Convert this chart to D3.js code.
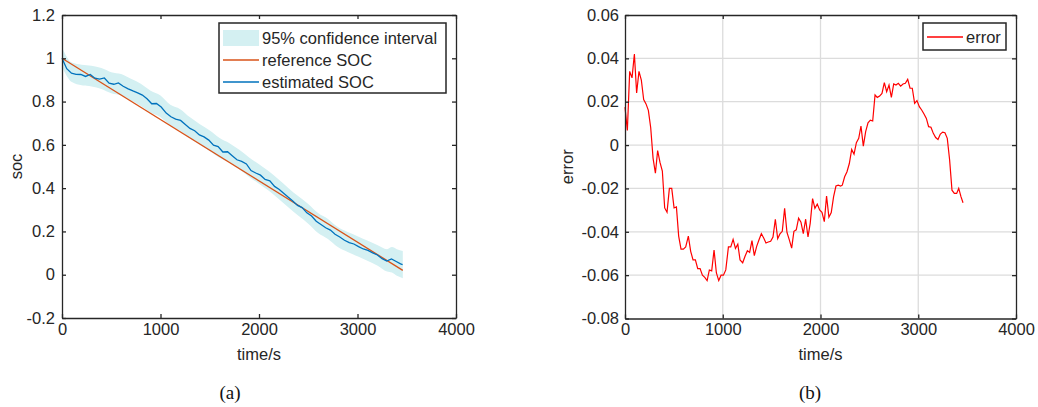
<!DOCTYPE html>
<html>
<head>
<meta charset="utf-8">
<script src="https://cdn.jsdelivr.net/npm/d3@7"></script>
<style>
  body { margin: 0; background: #fff; }
  svg text { font-family: "Liberation Sans", Arial, sans-serif; font-size: 16.5px; fill: #262626; }
  svg text.caption { font-family: "Liberation Serif", "DejaVu Serif", serif; font-size: 19px; fill: #111; }
  .axis path, .axis line { stroke: #262626; stroke-width: 1.3; }
</style>
</head>
<body>
<svg id="chart" width="1038" height="407"></svg>
<script>
/* global d3 */
const
  axisColor = '#262626',
  bandColor = '#d4f0f2',
  refColor = '#d95319',
  estColor = '#0072bd',
  errColor = '#ff0000',
  gridColor = '#dcdcdc';

// x ticks (shared), y ticks of each panel
const timeTicks = [0, 1000, 2000, 3000, 4000];
const socTicks = [-0.2, 0, 0.2, 0.4, 0.6, 0.8, 1, 1.2];
const errTicks = [-0.08, -0.06, -0.04, -0.02, 0, 0.02, 0.04, 0.06];

// (a) reference SOC: straight discharge line
const refTime = [0, 3460];
const refSoc = [1.0, 0.02];

// (a) estimated SOC
const estTime = [0, 48, 96, 143, 191, 239, 287, 334, 382, 430, 478, 526, 573, 621, 672, 720, 768, 816, 863, 911,
  959, 1007, 1058, 1106, 1154, 1204, 1252, 1299, 1347, 1395, 1442, 1490, 1538, 1585, 1633, 1681, 1728, 1776, 1824,
  1872, 1919, 1967, 2015, 2062, 2110, 2158, 2206, 2247, 2295, 2343, 2391, 2438, 2486, 2534, 2581, 2629, 2677, 2725,
  2772, 2820, 2868, 2916, 2963, 3011, 3059, 3106, 3154, 3202, 3250, 3297, 3345, 3393, 3437, 3458];
const estSoc = [1.0, 0.952, 0.931, 0.926, 0.925, 0.916, 0.925, 0.908, 0.904, 0.909, 0.885, 0.880, 0.886, 0.871,
  0.859, 0.849, 0.840, 0.830, 0.813, 0.790, 0.791, 0.775, 0.747, 0.730, 0.719, 0.713, 0.694, 0.676, 0.665, 0.646,
  0.637, 0.622, 0.599, 0.592, 0.567, 0.568, 0.550, 0.531, 0.524, 0.512, 0.481, 0.470, 0.460, 0.440, 0.434, 0.408,
  0.394, 0.378, 0.359, 0.341, 0.320, 0.310, 0.286, 0.271, 0.247, 0.232, 0.217, 0.206, 0.187, 0.174, 0.159, 0.148,
  0.142, 0.130, 0.119, 0.112, 0.101, 0.091, 0.074, 0.063, 0.073, 0.061, 0.050, 0.047];

// (a) 95% confidence interval
const ciTime = [0, 100, 200, 300, 400, 500, 600, 700, 800, 900, 1000, 1100, 1200, 1300, 1400, 1500, 1600, 1700,
  1800, 1900, 2000, 2100, 2200, 2300, 2400, 2500, 2600, 2700, 2800, 2900, 3000, 3100, 3200, 3300, 3350, 3400, 3460];
const ciUpper = [1.05, 0.98, 0.97, 0.965, 0.955, 0.936, 0.927, 0.905, 0.882, 0.85, 0.828, 0.785, 0.765, 0.727,
  0.695, 0.666, 0.632, 0.608, 0.577, 0.542, 0.51, 0.478, 0.44, 0.40, 0.362, 0.327, 0.285, 0.258, 0.22, 0.197,
  0.178, 0.158, 0.137, 0.118, 0.128, 0.118, 0.11];
const ciLower = [0.96, 0.89, 0.875, 0.87, 0.858, 0.838, 0.828, 0.805, 0.78, 0.75, 0.728, 0.69, 0.665, 0.63, 0.6,
  0.572, 0.54, 0.518, 0.487, 0.452, 0.42, 0.388, 0.35, 0.31, 0.272, 0.236, 0.193, 0.165, 0.128, 0.105, 0.085,
  0.065, 0.043, 0.015, 0.01, -0.005, -0.016];

// (b) error = reference - estimated
const errTime = [0, 24, 48, 72, 96, 119, 143, 167, 191, 215, 239, 263, 287, 311, 334, 358, 382, 406, 430, 454, 478,
  502, 526, 549, 573, 597, 621, 648, 672, 696, 720, 744, 768, 792, 816, 840, 863, 887, 911, 935, 959, 983, 1007,
  1031, 1058, 1082, 1106, 1130, 1154, 1177, 1204, 1228, 1252, 1275, 1299, 1323, 1347, 1371, 1395, 1419, 1442,
  1466, 1490, 1514, 1538, 1562, 1585, 1609, 1633, 1657, 1681, 1705, 1728, 1752, 1776, 1800, 1824, 1848, 1872,
  1895, 1919, 1943, 1967, 1991, 2015, 2039, 2062, 2086, 2110, 2134, 2158, 2182, 2206, 2223, 2247, 2271, 2295,
  2319, 2343, 2367, 2391, 2414, 2438, 2462, 2486, 2510, 2534, 2558, 2581, 2605, 2629, 2653, 2677, 2701, 2725,
  2749, 2772, 2796, 2820, 2844, 2868, 2892, 2916, 2939, 2963, 2987, 3011, 3035, 3059, 3083, 3106, 3130, 3154,
  3178, 3202, 3226, 3250, 3273, 3297, 3321, 3345, 3369, 3393, 3414, 3437, 3458];
const errValue = [0.0175, 0.0067, 0.034, 0.031, 0.042, 0.024, 0.034, 0.030, 0.021, 0.019, 0.016, 0.008, -0.006,
  -0.013, -0.0025, -0.008, -0.012, -0.029, -0.031, -0.020, -0.020, -0.029, -0.0285, -0.042, -0.048, -0.048,
  -0.047, -0.042, -0.049, -0.053, -0.053, -0.057, -0.057, -0.060, -0.061, -0.0625, -0.0576, -0.058, -0.0484,
  -0.059, -0.0625, -0.060, -0.060, -0.0576, -0.047, -0.047, -0.0435, -0.0477, -0.0457, -0.053, -0.0543, -0.0513,
  -0.0487, -0.0495, -0.0441, -0.051, -0.0467, -0.0437, -0.0409, -0.0429, -0.0452, -0.0447, -0.0444, -0.0424,
  -0.0342, -0.0432, -0.041, -0.0398, -0.0292, -0.0403, -0.0437, -0.0475, -0.0398, -0.0391, -0.0337, -0.0356,
  -0.0409, -0.0342, -0.0424, -0.036, -0.0247, -0.0292, -0.0272, -0.0299, -0.031, -0.0353, -0.0235, -0.0333,
  -0.0311, -0.0238, -0.0189, -0.0185, -0.0189, -0.0185, -0.0146, -0.0123, -0.0085, -0.002, -0.0042, 0.0011,
  0.0031, 0.0088, -0.0005, 0.0062, 0.0103, 0.0115, 0.0111, 0.0231, 0.022, 0.0226, 0.0238, 0.0288, 0.0246,
  0.0277, 0.022, 0.0282, 0.0277, 0.0285, 0.0272, 0.0282, 0.0285, 0.0303, 0.0262, 0.0262, 0.0192, 0.0205,
  0.0177, 0.0162, 0.0143, 0.0123, 0.0085, 0.0082, 0.0054, 0.0035, 0.0026, 0.0051, 0.006, 0.0057, 0.0031,
  -0.0069, -0.0208, -0.0223, -0.0223, -0.02, -0.0238, -0.0266];

const svg = d3.select('#chart');

// Panel geometry
const left = { x0: 62, x1: 456, y0: 318, y1: 15 },
  right = { x0: 625, x1: 1016, y0: 318.5, y1: 15 };

const xA = d3.scaleLinear().domain([0, 4000]).range([left.x0, left.x1]),
  yA = d3.scaleLinear().domain([-0.2, 1.2]).range([left.y0, left.y1]),
  xB = d3.scaleLinear().domain([0, 4000]).range([right.x0, right.x1]),
  yB = d3.scaleLinear().domain([-0.08, 0.06]).range([right.y0, right.y1]);

// Box with inward ticks on all four sides (MATLAB style)
function drawFrame(x, y, box, xt, yt, pad) {
  const g = svg.append('g');
  g.append('g').attr('class', 'axis').
    attr('transform', `translate(0,${box.y0})`).
    call(d3.axisBottom(x).tickValues(xt).tickSizeInner(-4).tickSizeOuter(0).tickPadding(5).tickFormat(d => String(d)));
  g.append('g').attr('class', 'axis').
    attr('transform', `translate(0,${box.y1})`).
    call(d3.axisTop(x).tickValues(xt).tickSizeInner(-4).tickSizeOuter(0).tickFormat(''));
  g.append('g').attr('class', 'axis').
    attr('transform', `translate(${box.x0},0)`).
    call(d3.axisLeft(y).tickValues(yt).tickSizeInner(-4).tickSizeOuter(0).tickPadding(pad).tickFormat(d => String(d)));
  g.append('g').attr('class', 'axis').
    attr('transform', `translate(${box.x1},0)`).
    call(d3.axisRight(y).tickValues(yt).tickSizeInner(-4).tickSizeOuter(0).tickFormat(''));
  g.selectAll('.tick text').attr('fill', axisColor).style('font-size', '16.5px').
    style('font-family', '"Liberation Sans", Arial, sans-serif');
  g.selectAll('.domain').attr('stroke', axisColor);
  g.selectAll('.tick line').attr('stroke', axisColor);
  return g;
}

// ---------- (a) ----------
const band = ciTime.map((t, i) => ({ t, hi: ciUpper[i], lo: ciLower[i] }));
svg.append('path').
  datum(band).
  attr('fill', bandColor).
  attr('d', d3.area().x(d => xA(d.t)).y0(d => yA(d.lo)).y1(d => yA(d.hi)).curve(d3.curveMonotoneX));

svg.append('path').
  datum(refTime.map((t, i) => [t, refSoc[i]])).
  attr('fill', 'none').
  attr('stroke', refColor).
  attr('stroke-width', 1.3).
  attr('d', d3.line().x(d => xA(d[0])).y(d => yA(d[1])));

svg.append('path').
  datum(estTime.map((t, i) => [t, estSoc[i]])).
  attr('fill', 'none').
  attr('stroke', estColor).
  attr('stroke-width', 1.3).
  attr('d', d3.line().x(d => xA(d[0])).y(d => yA(d[1])));

drawFrame(xA, yA, left, timeTicks, socTicks, 7);

// Legend (a)
const legA = svg.append('g');
legA.append('rect').
  attr('x', 219).attr('y', 23).attr('width', 227).attr('height', 70).
  attr('fill', '#fff').attr('stroke', axisColor).attr('stroke-width', 1.5);
const legItems = [
  { label: '95% confidence interval', kind: 'band', color: bandColor },
  { label: 'reference SOC', kind: 'line', color: refColor },
  { label: 'estimated SOC', kind: 'line', color: estColor }
];
legItems.forEach((it, i) => {
  const cy = 38 + i * 22;
  if (it.kind === 'band') {
    legA.append('rect').attr('x', 223).attr('y', cy - 8).attr('width', 36).attr('height', 16).attr('fill', it.color);
  } else {
    legA.append('line').attr('x1', 223).attr('x2', 259).attr('y1', cy).attr('y2', cy).
      attr('stroke', it.color).attr('stroke-width', 1.3);
  }
  legA.append('text').attr('x', 262).attr('y', cy).attr('dy', '0.35em').text(it.label);
});

svg.append('text').attr('x', (left.x0 + left.x1) / 2).attr('y', 360).attr('text-anchor', 'middle').text('time/s');
svg.append('text').attr('transform', `translate(22,${(left.y0 + left.y1) / 2}) rotate(-90)`).
  attr('text-anchor', 'middle').text('soc');
svg.append('text').attr('class', 'caption').attr('x', 230).attr('y', 399).attr('text-anchor', 'middle').text('(a)');

// ---------- (b) ----------
const grid = svg.append('g');
grid.selectAll('line.v').
  data(timeTicks.slice(1, -1)).
  join('line').
  attr('x1', d => xB(d)).attr('x2', d => xB(d)).
  attr('y1', right.y0).attr('y2', right.y1).
  attr('stroke', gridColor).attr('stroke-width', 1.3);
grid.selectAll('line.h').
  data(errTicks.slice(1, -1)).
  join('line').
  attr('class', 'h').
  attr('x1', right.x0).attr('x2', right.x1).
  attr('y1', d => yB(d)).attr('y2', d => yB(d)).
  attr('stroke', gridColor).attr('stroke-width', 1.3);

svg.append('path').
  datum(errTime.map((t, i) => [t, errValue[i]])).
  attr('fill', 'none').
  attr('stroke', errColor).
  attr('stroke-width', 1.2).
  attr('d', d3.line().x(d => xB(d[0])).y(d => yB(d[1])));

drawFrame(xB, yB, right, timeTicks, errTicks, 6);

const legB = svg.append('g');
legB.append('rect').
  attr('x', 923).attr('y', 23).attr('width', 83).attr('height', 27).
  attr('fill', '#fff').attr('stroke', axisColor).attr('stroke-width', 1.5);
legB.append('line').attr('x1', 927).attr('x2', 963).attr('y1', 37).attr('y2', 37).
  attr('stroke', errColor).attr('stroke-width', 1.3);
legB.append('text').attr('x', 966).attr('y', 37).attr('dy', '0.35em').text('error');

svg.append('text').attr('x', (right.x0 + right.x1) / 2).attr('y', 360).attr('text-anchor', 'middle').text('time/s');
svg.append('text').attr('transform', `translate(573,${(right.y0 + right.y1) / 2}) rotate(-90)`).
  attr('text-anchor', 'middle').text('error');
svg.append('text').attr('class', 'caption').attr('x', 810).attr('y', 399).attr('text-anchor', 'middle').text('(b)');
</script>
</body>
</html>
